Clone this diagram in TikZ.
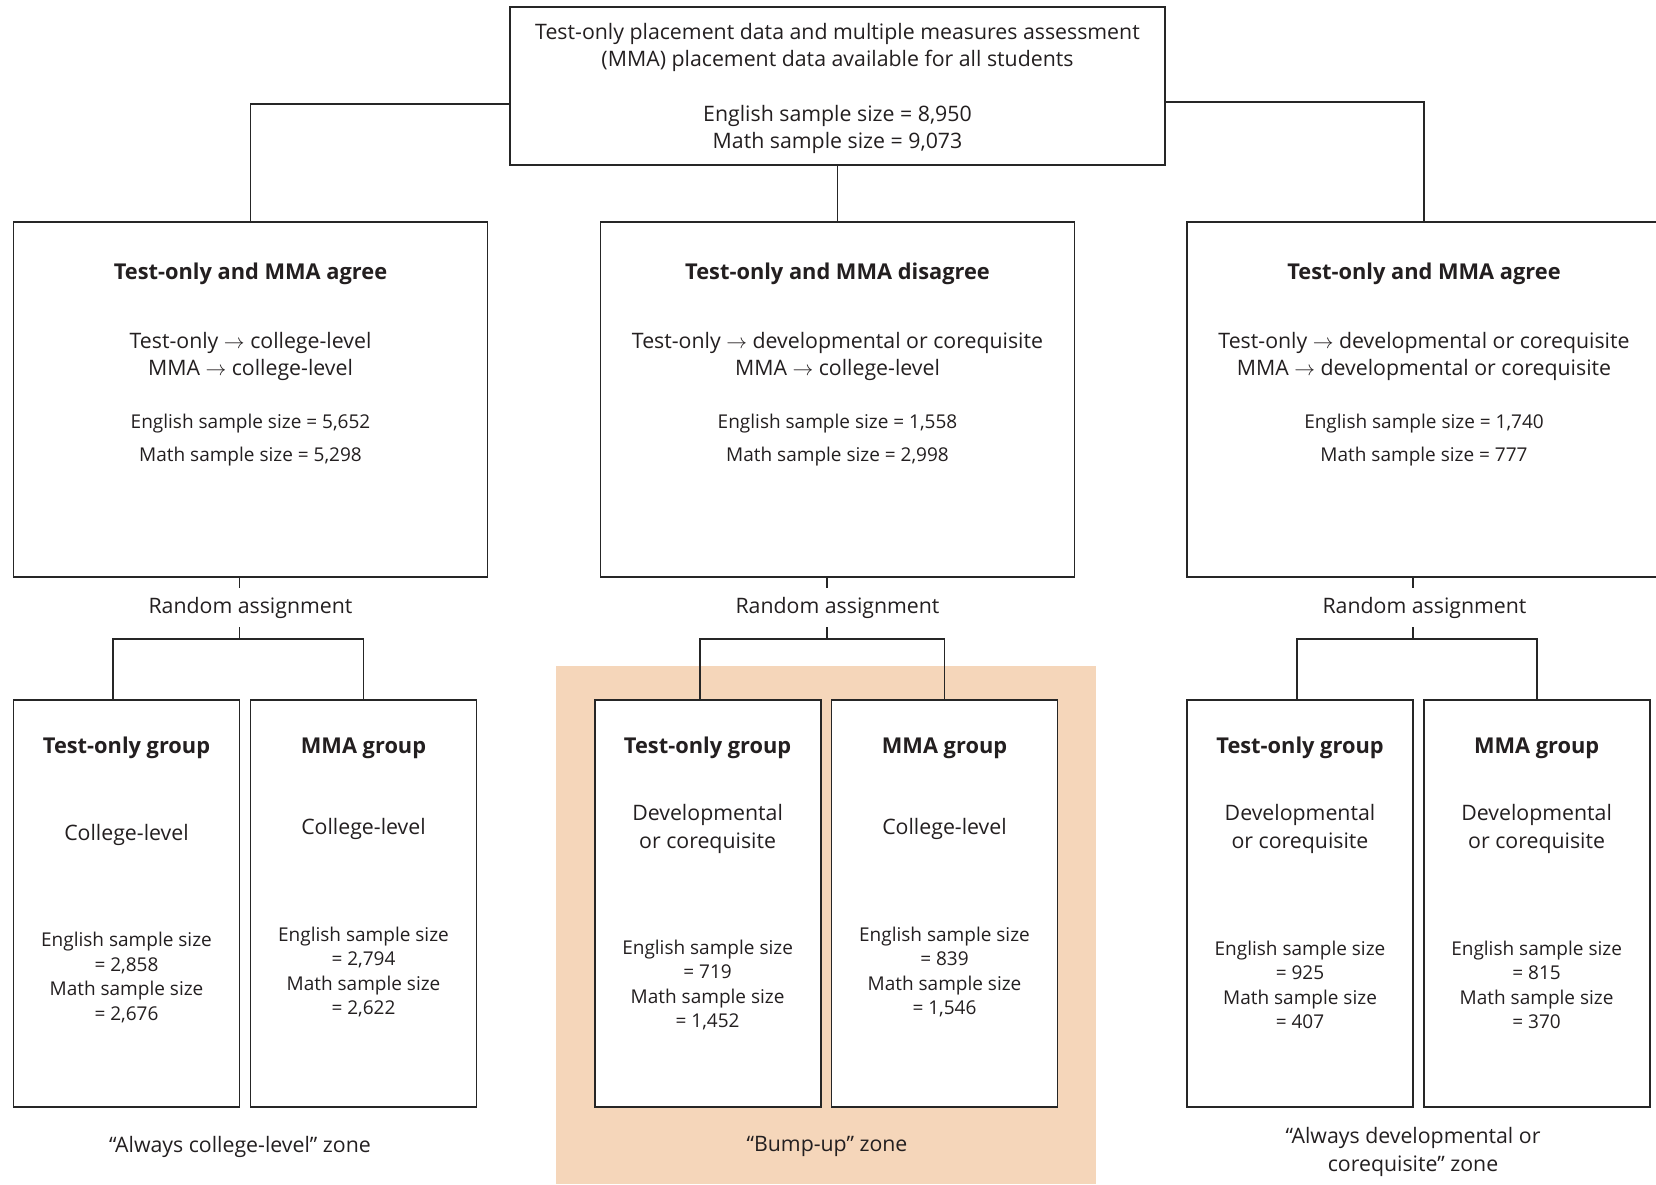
\documentclass[tikz,border=0pt]{standalone}
\usepackage{fontspec}
\setmainfont{Open Sans}
\usepackage{tikz}
\definecolor{linegray}{RGB}{38, 38, 38}
\definecolor{textblack}{RGB}{35, 31, 32}
\definecolor{bumpup}{RGB}{245, 214, 186}
\tikzstyle{box} = [
    draw=linegray,
    line width=1.9pt,
    fill=white,
    inner sep=0pt
]
\tikzstyle{link} = [
    draw=linegray,
    line width=1.9pt
]
\tikzstyle{heading} = [
    font=\fontsize{21.8}{27.3}\selectfont\bfseries,
    text=textblack
]
\tikzstyle{body} = [
    font=\fontsize{21.3}{27.3}\selectfont,
    text=textblack,
    align=center
]
\tikzstyle{sizes} = [
    font=\fontsize{19}{24.4}\selectfont,
    text=textblack,
    align=center
]

\begin{document}
\begin{tikzpicture}[x=1pt, y=-1pt]
    \useasboundingbox (0,0) rectangle (1656,1184);
    \clip (0,0) rectangle (1656,1184);

    % Bump-up zone shading
    \fill[bumpup] (555.5,666) rectangle (1096,1184);

    % All students
    \node[box, minimum width=655pt, minimum height=157.6pt] (all) at (837.5,86.2) {};
    \node[body] (all-text) at (837.5,88.5)
        {Test-only placement data and multiple measures assessment\\
         (MMA) placement data available for all students\\[27.3pt]
         English sample size = 8,950\\
         Math sample size = 9,073};

    % Agreement boxes
    \node[box, minimum width=474pt, minimum height=355pt] (agreecl) at (250.5,399.5) {};
    \node[box, minimum width=474pt, minimum height=355pt] (disagree) at (837.5,399.5) {};
    \node[box, minimum width=474pt, minimum height=355pt] (agreedev) at (1424,399.5) {};

    \node[heading] (agreecl-title) at (250.5,274) {Test-only and MMA agree};
    \node[body] (agreecl-rule) at (250.5,356.8) {Test-only $\rightarrow$ college-level\\MMA $\rightarrow$ college-level};
    \node[sizes, font=\fontsize{19}{32.5}\selectfont] (agreecl-n) at (250.5,440.2) {English sample size = 5,652\\Math sample size = 5,298};

    \node[heading] (disagree-title) at (837.5,274) {Test-only and MMA disagree};
    \node[body] (disagree-rule) at (837.5,356.8) {Test-only $\rightarrow$ developmental or corequisite\\MMA $\rightarrow$ college-level};
    \node[sizes, font=\fontsize{19}{32.5}\selectfont] (disagree-n) at (837.5,440.2) {English sample size = 1,558\\Math sample size = 2,998};

    \node[heading] (agreedev-title) at (1424,274) {Test-only and MMA agree};
    \node[body] (agreedev-rule) at (1424,356.8) {Test-only $\rightarrow$ developmental or corequisite\\MMA $\rightarrow$ developmental or corequisite};
    \node[sizes, font=\fontsize{19}{32.5}\selectfont] (agreedev-n) at (1424,440.2) {English sample size = 1,740\\Math sample size = 777};

    % Random assignment labels
    \node[body, minimum height=39pt, inner sep=0pt] (lra) at (250.5,607.5) {Random assignment};
    \node[body, minimum height=39pt, inner sep=0pt] (mra) at (837.5,607.5) {Random assignment};
    \node[body, minimum height=39pt, inner sep=0pt] (rra) at (1424.5,607.5) {Random assignment};
    \coordinate (lsplit) at (239.5,639);
    \coordinate (msplit) at (827,639);
    \coordinate (rsplit) at (1413,639);

    % Group boxes
    \node[box, minimum width=226pt, minimum height=407pt] (lto) at (126.5,903.5) {};
    \node[box, minimum width=226pt, minimum height=407pt] (lmma) at (363.5,903.5) {};
    \node[box, minimum width=226pt, minimum height=407pt] (mto) at (707.6,903.5) {};
    \node[box, minimum width=226pt, minimum height=407pt] (mmma) at (944.5,903.5) {};
    \node[box, minimum width=226pt, minimum height=407pt] (rto) at (1300,903.5) {};
    \node[box, minimum width=226pt, minimum height=407pt] (rmma) at (1536.6,903.5) {};

    \node[heading] (lto-title) at (126.5,748) {Test-only group};
    \node[body] (lto-level) at (126.5,835) {College-level};
    \node[sizes] (lto-n) at (126.5,977.5) {English sample size\\= 2,858\\Math sample size\\= 2,676};

    \node[heading] (lmma-title) at (363.5,748) {MMA group};
    \node[body] (lmma-level) at (363.5,829) {College-level};
    \node[sizes] (lmma-n) at (363.5,972) {English sample size\\= 2,794\\Math sample size\\= 2,622};

    \node[heading] (mto-title) at (707.6,748) {Test-only group};
    \node[body] (mto-level) at (707.6,829) {Developmental\\or corequisite};
    \node[sizes] (mto-n) at (707.6,985) {English sample size\\= 719\\Math sample size\\= 1,452};

    \node[heading] (mmma-title) at (944.5,748) {MMA group};
    \node[body] (mmma-level) at (944.5,829) {College-level};
    \node[sizes] (mmma-n) at (944.5,972) {English sample size\\= 839\\Math sample size\\= 1,546};

    \node[heading] (rto-title) at (1300,748) {Test-only group};
    \node[body] (rto-level) at (1300,829) {Developmental\\or corequisite};
    \node[sizes] (rto-n) at (1300,985) {English sample size\\= 925\\Math sample size\\= 407};

    \node[heading] (rmma-title) at (1536.6,748) {MMA group};
    \node[body] (rmma-level) at (1536.6,829) {Developmental\\or corequisite};
    \node[sizes] (rmma-n) at (1536.6,985) {English sample size\\= 815\\Math sample size\\= 370};

    % Zone labels
    \node[body] (lzone) at (240,1146.5) {“Always college-level” zone};
    \node[body] (mzone) at (827,1146.5) {“Bump-up” zone};
    \node[body] (rzone) at (1413,1152) {“Always developmental or\\corequisite” zone};

    % Connectors from the top box
    \draw[link] ([yshift=-18pt]all.west) -| (agreecl.north);
    \draw[link] (all.south) -- (disagree.north);
    \draw[link] ([yshift=-16pt]all.east) -| (agreedev.north);

    % Random assignment splits
    \draw[link] (agreecl.south -| lsplit) -- (lra.north -| lsplit);
    \draw[link] (lra.south -| lsplit) -- (lsplit);
    \draw[link] ([xshift=-13.5pt]lto.north) |- (lsplit) -| (lmma.north);

    \draw[link] (disagree.south -| msplit) -- (mra.north -| msplit);
    \draw[link] (mra.south -| msplit) -- (msplit);
    \draw[link] ([xshift=-7.6pt]mto.north) |- (msplit) -| (mmma.north);

    \draw[link] (agreedev.south -| rsplit) -- (rra.north -| rsplit);
    \draw[link] (rra.south -| rsplit) -- (rsplit);
    \draw[link] ([xshift=-3pt]rto.north) |- (rsplit) -| (rmma.north);
\end{tikzpicture}
\end{document}
